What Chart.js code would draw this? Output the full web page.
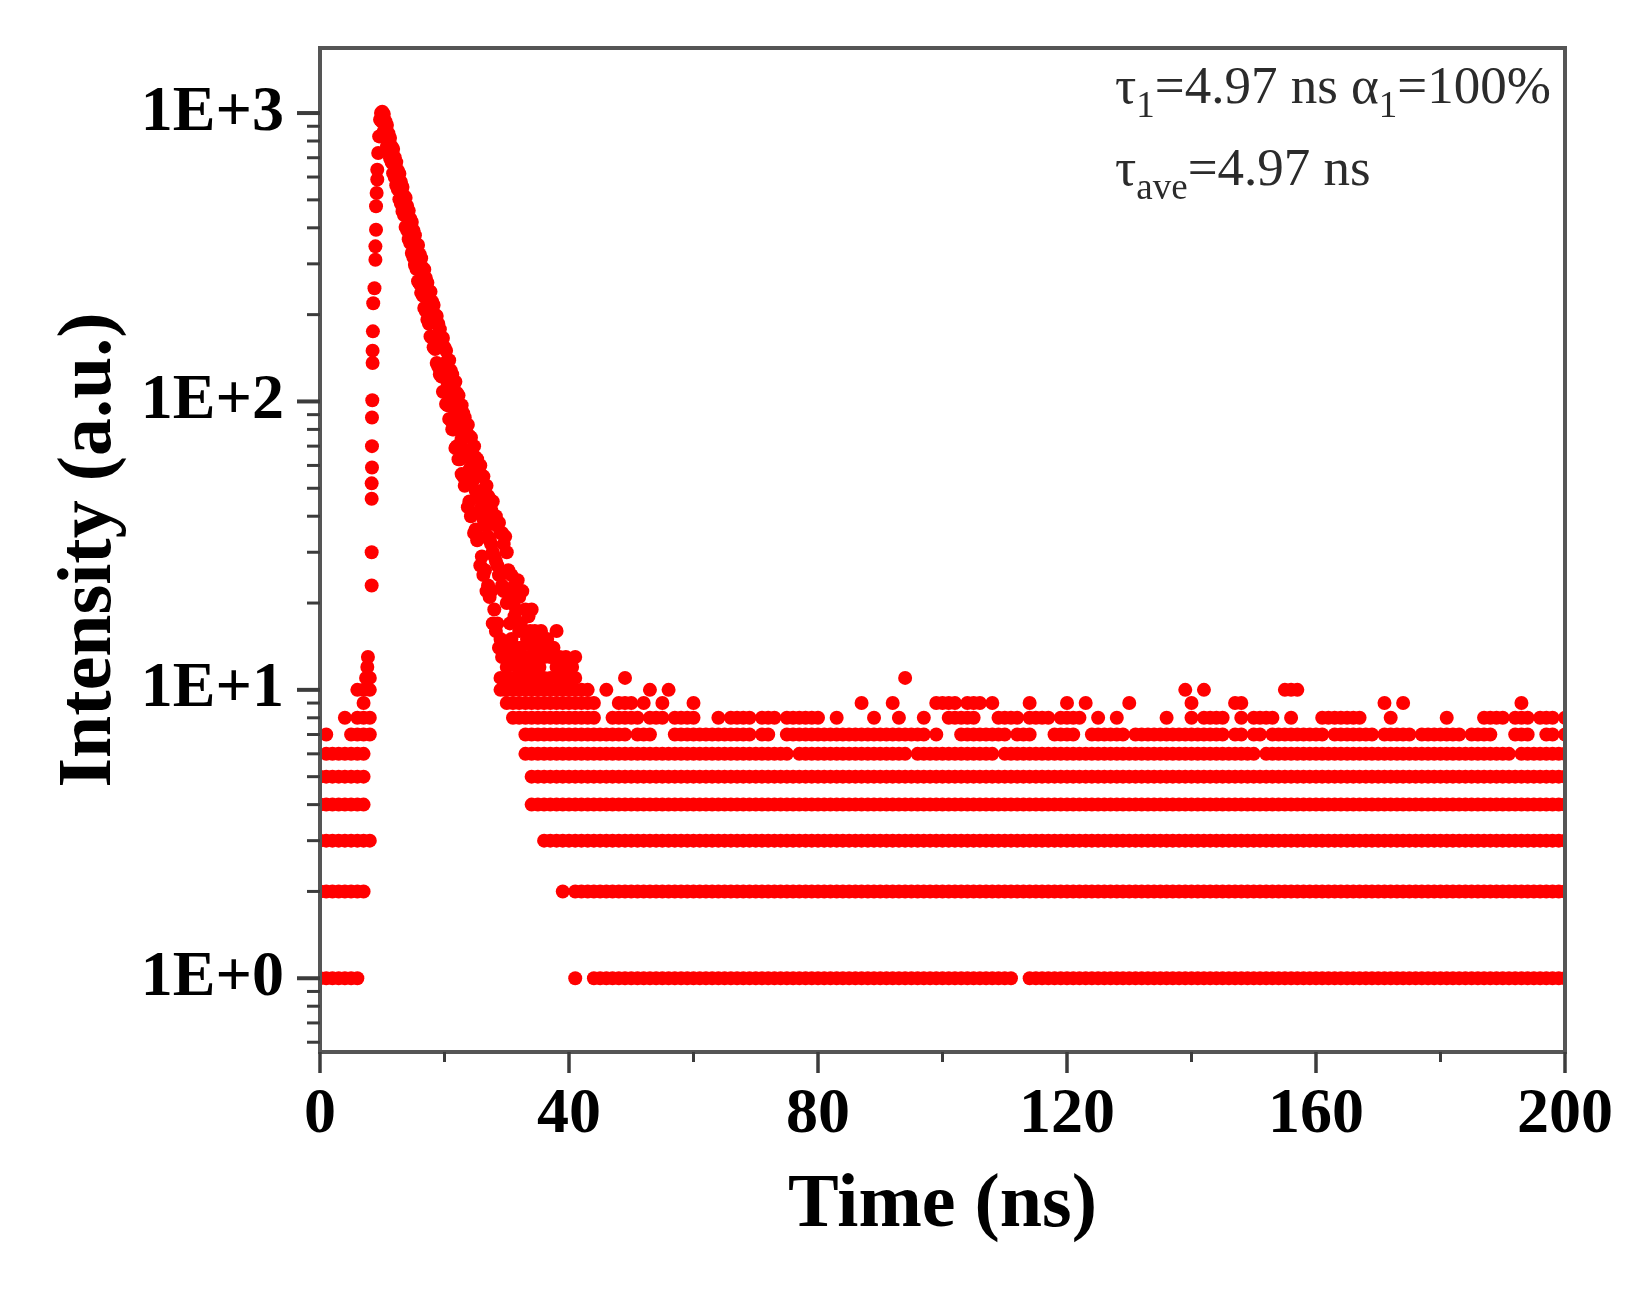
<!DOCTYPE html>
<html>
<head>
<meta charset="utf-8">
<title>Intensity decay</title>
<script src="https://cdn.jsdelivr.net/npm/chart.js@4.4.1/dist/chart.umd.min.js"></script>
<style>
  body { margin: 0; background: #fff; }
  #decayChart { display: block; }
</style>
</head>
<body>
<canvas id="decayChart" width="1649" height="1290"></canvas>
<script>
// axis ticks
var xTickValues = [0, 40, 80, 120, 160, 200];
var yTickValues = [1, 10, 100, 1000];
var yTickLabels = ["1E+0", "1E+1", "1E+2", "1E+3"];

// baseline rows, one char per ns (t = 0..200), "1" = a dot at that count level
// row index + 1 = counts
var levelRows = [
  "1111111000 0000000000 0000000000 0000000000 0100111111 1111111111 1111111111 1111111111 1111111111 1111111111 1111111111 1100111111 1111111111 1111111111 1111111111 1111111111 1111111111 1111111111 1111111111 1111111111 1",
  "1111111100 0000000000 0000000000 0000000001 0111111111 1111111111 1111111111 1111111111 1111111111 1111111111 1111111111 1111111111 1111111111 1111111111 1111111111 1111111111 1111111111 1111111111 1111111111 1111111111 1",
  "1111111110 0000000000 0000000000 0000001111 1111111111 1111111111 1111111111 1111111111 1111111111 1111111111 1111111111 1111111111 1111111111 1111111111 1111111111 1111111111 1111111111 1111111111 1111111111 1111111111 1",
  "1111111100 0000000000 0000000000 0000111111 1111111111 1111111111 1111111111 1111111111 1111111111 1111111111 1111111111 1111111111 1111111111 1111111111 1111111111 1111111111 1111111111 1111111111 1111111111 1111111111 1",
  "1111111100 0000000000 0000000000 0000111111 1111111111 1111111111 1111111111 1111111111 1111111111 1111111111 1111111111 1111111111 1111111111 1111111111 1111111111 1111111111 1111111111 1111111111 1111111111 1111111111 1",
  "0111111100 0000000000 0000000000 0001111111 1111111111 1111111111 1111111111 1111110111 1111111111 1111101111 1111111110 1111111111 1111111111 1111111111 1111111111 1011111111 1111111111 1111111111 1111111111 1101111111 1",
  "0100011110 0000000000 0000000000 0001111111 1111111111 0111000111 1111111111 0110011111 1111111111 1111111101 0001111111 1011100011 1100111111 0111111111 1111110110 1101111111 1101111111 0111110111 1111011110 0011100110 1",
  "0000101110 0000000000 0000000000 0111111111 1111100111 1101110111 1000101111 0111011111 1001000001 0001000100 0111110001 1110111101 1110010010 0000001000 1011110010 1111001000 0111111100 0010000000 0100000111 1011101110 1",
  "0000000100 0000000000 0000000000 1111111111 1111100011 1010010000 1000000000 0000000000 0000000100 0010000001 1110111010 0000100000 1001000000 1000000000 1000000110 0000000000 0000000000 0100100000 0000000000 0001000000 0",
  "0000001110 0000000000 0000000001 1111111111 1111001000 0001001000 0000000000 0000000000 0000000000 0000000000 0000000000 0000000000 0000000000 0000000001 0010000000 0000011100 0000000000 0000000000 0000000000 0000000000 0",
  "0000000010 0000000000 0000000001 1111111111 1100000001 0000000000 0000000000 0000000000 0000000000 0000100000 0000000000 0000000000 0000000000 0000000000 0000000000 0000000000 0000000000 0000000000 0000000000 0000000000 0"
];

// rising edge of the pulse
var riseTime  = [7.4, 7.6, 7.7, 8.3, 8.3, 8.3, 8.3, 8.35, 8.35, 8.35, 8.4, 8.45, 8.45, 8.5, 8.55, 8.75, 8.9, 8.9, 9.0, 9.0, 9.1, 9.2, 9.2, 9.35, 9.5, 9.65, 9.8];
var riseCount = [11, 12, 13, 23, 30, 46, 52, 59, 70, 88, 101, 136, 150, 175, 219, 247, 310, 345, 394, 475, 528, 588, 636, 727, 830, 948, 1000];

// decay band, upper and lower edge every 0.25 ns from 10 to 30 ns
var bandTime = [10, 10.25, 10.5, 10.75, 11, 11.25, 11.5, 11.75, 12, 12.25, 12.5, 12.75, 13, 13.25, 13.5, 13.75,
  14, 14.25, 14.5, 14.75, 15, 15.25, 15.5, 15.75, 16, 16.25, 16.5, 16.75, 17, 17.25, 17.5, 17.75,
  18, 18.25, 18.5, 18.75, 19, 19.25, 19.5, 19.75, 20, 20.25, 20.5, 20.75, 21, 21.25, 21.5, 21.75,
  22, 22.25, 22.5, 22.75, 23, 23.25, 23.5, 23.75, 24, 24.25, 24.5, 24.75, 25, 25.25, 25.5, 25.75,
  26, 26.25, 26.5, 26.75, 27, 27.25, 27.5, 27.75, 28, 28.25, 28.5, 28.75, 29, 29.25, 29.5, 29.75, 30];
var bandHigh = [1010, 993, 937, 909, 850, 819, 766, 751, 702, 676, 632, 616, 577, 554, 517, 509,
  476, 459, 430, 419, 392, 377, 352, 349, 324, 314, 291, 287, 268, 258, 242, 240,
  222, 216, 200, 198, 186, 178, 166, 166, 154, 150, 139, 139, 128, 124, 115, 117,
  107, 105, 97, 97, 91, 88, 81, 83, 76, 75, 69, 70, 64, 63, 58, 60,
  55, 55, 50, 51, 47, 46, 42, 45, 40, 40, 37, 38, 35, 35, 32, 34, 30];
var bandLow = [930, 863, 829, 769, 744, 697, 675, 619, 600, 562, 544, 502, 485, 456, 443, 403,
  392, 365, 354, 327, 316, 297, 288, 261, 256, 238, 233, 211, 206, 192, 186, 168,
  166, 154, 152, 136, 132, 124, 122, 108, 108, 98, 97, 87, 86, 80, 80, 69,
  70, 63, 63, 56, 55, 51, 52, 43, 45, 40, 41, 35, 36, 33, 34, 27,
  29, 25, 26, 22, 23, 21, 22, 17, 19, 16, 17, 14, 15, 13, 14, 10, 12];

// middle of the band where it gets wide (20 to 30 ns)
var midTime = [20, 20.25, 20.5, 20.75, 21, 21.25, 21.5, 21.75, 22, 22.25, 22.5, 22.75, 23, 23.25, 23.5, 23.75,
  24, 24.25, 24.5, 24.75, 25, 25.25, 25.5, 25.75, 26, 26.25, 26.5, 26.75, 27, 27.25, 27.5, 27.75,
  28, 28.25, 28.5, 28.75, 29, 29.25, 29.5, 29.75, 30];
var midCount = [128, 127, 116, 114, 104, 106, 95, 92, 90, 82, 81, 74, 75, 68, 65, 64,
  58, 59, 53, 54, 49, 47, 46, 42, 43, 39, 38, 37, 34, 33, 32, 30,
  29, 28, 27, 25, 25, 23, 22, 22, 20];

// scattered tail above 11 counts
var tailTime  = [30.25, 30.25, 30.5, 30.5, 30.75, 30.75, 31, 31, 31.25, 31.25, 31.5, 31.5, 31.75, 31.75, 32, 32,
  32.25, 32.25, 32.5, 32.5, 32.75, 32.75, 33, 33, 33.25, 33.5, 33.5, 33.75, 34, 34, 34.25, 34.5,
  34.75, 35, 35.25, 35.5, 35.75, 36, 36.5, 37, 37.5, 38, 38, 38.5, 39, 39.5, 40, 40.5, 41];
var tailCount = [26, 14, 22, 17, 25, 15, 20, 13, 23, 18, 19, 14, 24, 12, 21, 16,
  17, 14, 22, 12, 16, 13, 19, 12, 15, 18, 13, 16, 19, 12, 14, 16,
  13, 15, 12, 16, 14, 13, 15, 13, 14, 12, 16, 13, 12, 13, 12, 12, 13];

// fit results text (sub = subscript)
var fitLine1 = [{text: "\u03c4"}, {text: "1", sub: true}, {text: "=4.97 ns \u03b1"}, {text: "1", sub: true}, {text: "=100%"}];
var fitLine2 = [{text: "\u03c4"}, {text: "ave", sub: true}, {text: "=4.97 ns"}];

var serif = '"Liberation Serif", "Times New Roman", serif';

// build the point list
var points = [];
levelRows.forEach(function(row, i) {
  var cells = row.replace(/ /g, "").split("");
  cells.forEach(function(c, t) {
    if (c === "1") points.push({x: t, y: i + 1});
  });
});
riseTime.forEach(function(t, i) { points.push({x: t, y: riseCount[i]}); });
bandTime.forEach(function(t, i) {
  points.push({x: t, y: bandHigh[i]});
  points.push({x: t, y: bandLow[i]});
});
midTime.forEach(function(t, i) { points.push({x: t, y: midCount[i]}); });
tailTime.forEach(function(t, i) { points.push({x: t, y: tailCount[i]}); });

function isPow10(v) {
  return yTickValues.some(function(p) { return Math.abs(v - p) < 1e-9 * p; });
}

// box frame + outward ticks (major long, minor short)
var frameTicks = {
  id: "frameTicks",
  afterDraw: function(chart) {
    var ctx = chart.ctx;
    var a = chart.chartArea;
    var xs = chart.scales.x;
    var ys = chart.scales.y;
    ctx.save();
    ctx.strokeStyle = "#555";
    ctx.lineWidth = 4;
    ctx.strokeRect(a.left, a.top, a.right - a.left, a.bottom - a.top);

    ctx.strokeStyle = "#3c3c3c";
    xs.ticks.forEach(function(t) {
      var px = xs.getPixelForValue(t.value);
      var major = xTickValues.indexOf(t.value) !== -1;
      ctx.lineWidth = major ? 3.5 : 3;
      ctx.beginPath();
      ctx.moveTo(px, a.bottom);
      ctx.lineTo(px, a.bottom + (major ? 21 : 10));
      ctx.stroke();
    });
    ys.ticks.forEach(function(t) {
      var v = t.value;
      var e = Math.floor(Math.log10(v) + 1e-9);
      var m = v / Math.pow(10, e);
      if (Math.abs(m - Math.round(m)) > 1e-6) return;
      var major = isPow10(v);
      var py = ys.getPixelForValue(v);
      ctx.lineWidth = major ? 4 : 3;
      ctx.beginPath();
      ctx.moveTo(a.left, py);
      ctx.lineTo(a.left - (major ? 23 : 13), py);
      ctx.stroke();
    });
    ctx.restore();
  }
};

function drawRuns(ctx, runs, x, y) {
  runs.forEach(function(r) {
    ctx.font = (r.sub ? "37px " : "53px ") + serif;
    ctx.fillText(r.text, x, y + (r.sub ? 14 : 0));
    x += ctx.measureText(r.text).width;
  });
}

// tau / alpha text in the top right corner
var fitText = {
  id: "fitText",
  afterDraw: function(chart) {
    var ctx = chart.ctx;
    ctx.save();
    ctx.fillStyle = "#2b2b2b";
    ctx.textBaseline = "alphabetic";
    ctx.textAlign = "left";
    drawRuns(ctx, fitLine1, 1115, 103);
    drawRuns(ctx, fitLine2, 1115, 185);
    ctx.restore();
  }
};

var ctx = document.getElementById("decayChart").getContext("2d");
var chart = new Chart(ctx, {
  type: "scatter",
  data: {
    datasets: [
      {
        label: "decay",
        data: points,
        pointRadius: 7,
        pointHoverRadius: 7,
        pointBackgroundColor: "#ff0000",
        pointBorderWidth: 0,
        clip: 0
      }
    ]
  },
  options: {
    responsive: false,
    animation: false,
    devicePixelRatio: 1,
    layout: { padding: { top: 48, right: 84, left: 0, bottom: 0 } },
    plugins: {
      legend: { display: false },
      tooltip: { enabled: false }
    },
    scales: {
      x: {
        type: "linear",
        min: 0,
        max: 200,
        afterFit: function(scale) {
          scale.height = 238;
          scale.paddingLeft = 0;
          scale.paddingRight = 0;
        },
        grid: { display: false, drawTicks: false },
        border: { display: false },
        ticks: {
          stepSize: 20,
          autoSkip: false,
          maxRotation: 0,
          padding: 25,
          color: "#000",
          font: { family: serif, size: 64, weight: "bold" },
          callback: function(v) { return xTickValues.indexOf(v) !== -1 ? String(v) : ""; }
        },
        title: {
          display: true,
          text: "Time (ns)",
          color: "#000",
          font: { family: serif, size: 76, weight: "bold" },
          padding: { top: 0, bottom: 38 }
        }
      },
      y: {
        type: "logarithmic",
        min: 0.555,
        max: 1681,
        afterFit: function(scale) {
          scale.width = 320;
          scale.paddingTop = 0;
          scale.paddingBottom = 0;
        },
        grid: { display: false, drawTicks: false },
        border: { display: false },
        ticks: {
          autoSkip: false,
          padding: 36,
          color: "#000",
          font: { family: serif, size: 64, weight: "bold" },
          callback: function(v) {
            for (var i = 0; i < yTickValues.length; i++) {
              if (Math.abs(v - yTickValues[i]) < 1e-9 * yTickValues[i]) return yTickLabels[i];
            }
            return "";
          }
        },
        title: {
          display: true,
          text: "Intensity (a.u.)",
          color: "#000",
          font: { family: serif, size: 76, weight: "bold" },
          padding: { top: 45, bottom: 0 }
        }
      }
    }
  },
  plugins: [frameTicks, fitText]
});
</script>
</body>
</html>
